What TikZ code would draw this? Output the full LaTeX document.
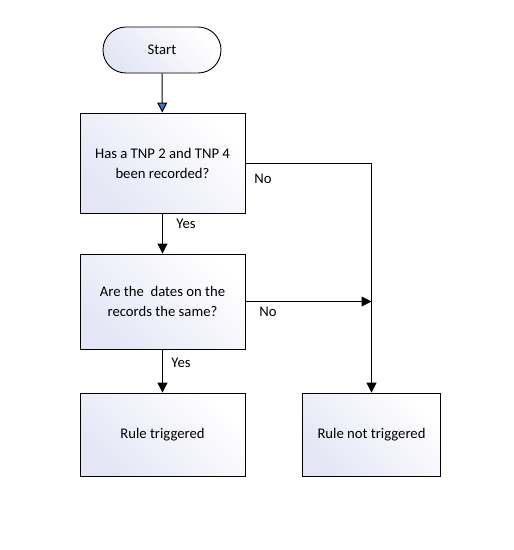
\documentclass[tikz,border=0pt]{standalone}
\usepackage{fontspec}
\setmainfont{Carlito}
\usepackage{tikz}
\usetikzlibrary{arrows.meta}
\definecolor{boxtint}{RGB}{228,230,245}
\definecolor{tipblue}{RGB}{68,114,196}
\tikzset{
  stepbox/.style={draw,line width=0.9pt,top color=boxtint,bottom color=white,
    shading angle=135,minimum width=165pt,minimum height=100pt,align=center,
    inner sep=2pt},
  flow/.style={line width=1pt,-{Triangle[length=10pt,width=10pt]}},
  lbl/.style={inner sep=0pt}
}

\begin{document}
\begin{tikzpicture}[x=1pt,y=-1pt,font=\fontsize{14.7}{20}\selectfont]
     \useasboundingbox (0,0) rectangle (514,550);
     \node[stepbox,rounded corners=22.9pt,minimum width=118pt,minimum height=46pt] at (162,50) (start) {Start};
     \node[stepbox] at (162.5,163) (tnp) {Has a TNP 2 and TNP 4\\been recorded?};
     \node[stepbox,minimum height=95pt] at (162.5,301.5) (dates) {Are the\ \ dates on the\\records the same?};
     \node[stepbox,minimum height=83pt] at (162.5,434.5) (trig) {Rule triggered};
     \node[stepbox,minimum width=138pt,minimum height=83pt] at (371.5,434.5) (notrig) {Rule not triggered};
     \coordinate (corner) at (notrig.north |- tnp.east);
     \coordinate (join) at (notrig.north |- dates.east);
     \node[lbl] at (186,224) (yesa) {Yes};
     \node[lbl] at (181,363) (yesb) {Yes};
     \node[lbl] at (263,179) (noa) {No};
     \node[lbl] at (268,312) (nob) {No};
     \draw[line width=1pt,-{Triangle[length=10pt,width=10pt,fill=tipblue]}] (start) -- (tnp);
     \draw[flow] (tnp) -- (dates);
     \draw[flow] (dates) -- (trig);
     \draw[flow] (dates.east) -- (join);
     \draw[flow] (tnp.east) -- (corner) -- (notrig.north);
\end{tikzpicture}
\end{document}
